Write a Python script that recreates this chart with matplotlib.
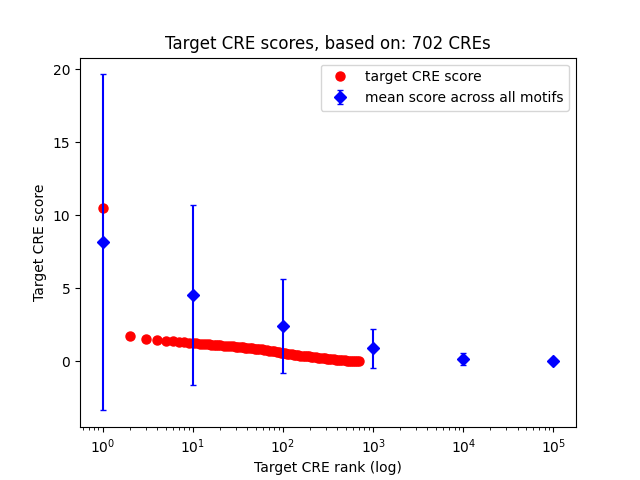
import matplotlib

matplotlib.use("Agg")
import matplotlib.pyplot as plt

ranks = [1, 2, 3, 4, 5, 6, 7, 8, 9, 10, 11, 12, 13, 14, 15, 16, 17, 18, 19, 20,
         22, 24, 26, 28, 30, 32, 34, 36, 38, 40, 43, 46, 49, 52, 55, 58, 62, 66,
         70, 75, 80, 85, 90, 95, 100, 106, 112, 118, 125, 132, 140, 148, 156, 165,
         175, 185, 195, 205, 218, 231, 245, 260, 275, 290, 308, 326, 345, 365,
         385, 408, 432, 456, 482, 510, 540, 570, 600, 635, 670, 702]
scores = [10.5, 1.71, 1.55, 1.47, 1.41, 1.37, 1.34, 1.31, 1.28, 1.25, 1.23, 1.21,
          1.195, 1.18, 1.165, 1.15, 1.14, 1.13, 1.12, 1.11, 1.09, 1.07, 1.05, 1.03,
          1.01, 0.995, 0.98, 0.965, 0.95, 0.94, 0.92, 0.90, 0.88, 0.86, 0.84, 0.82,
          0.80, 0.775, 0.75, 0.72, 0.69, 0.66, 0.63, 0.60, 0.57, 0.55, 0.52, 0.50,
          0.48, 0.46, 0.44, 0.42, 0.40, 0.39, 0.37, 0.35, 0.34, 0.32, 0.30, 0.285,
          0.27, 0.25, 0.235, 0.215, 0.195, 0.18, 0.16, 0.145, 0.13, 0.11, 0.095,
          0.08, 0.07, 0.055, 0.045, 0.035, 0.025, 0.015, 0.008, 0.0]

# mean score across all motifs, with error bars
mean_ranks = [1, 10, 100, 1000, 10000, 100000]
mean_scores = [8.15, 4.52, 2.40, 0.90, 0.20, 0.05]
mean_err = [11.5, 6.16, 3.22, 1.35, 0.41, 0.03]

n_cres = 702

fig, ax = plt.subplots(figsize=(6.4, 4.8), dpi=100)
ax.plot(ranks, scores, "ro", markersize=6.5, label="target CRE score")
ax.errorbar(mean_ranks, mean_scores, yerr=mean_err, fmt="bD", capsize=2,
            label="mean score across all motifs")
ax.set_xscale("log")
ax.set_xlabel("Target CRE rank (log)")
ax.set_ylabel("Target CRE score")
ax.set_title(f"Target CRE scores, based on: {n_cres} CREs")
ax.legend(loc="upper right")
fig.savefig("out.png", dpi=100)
